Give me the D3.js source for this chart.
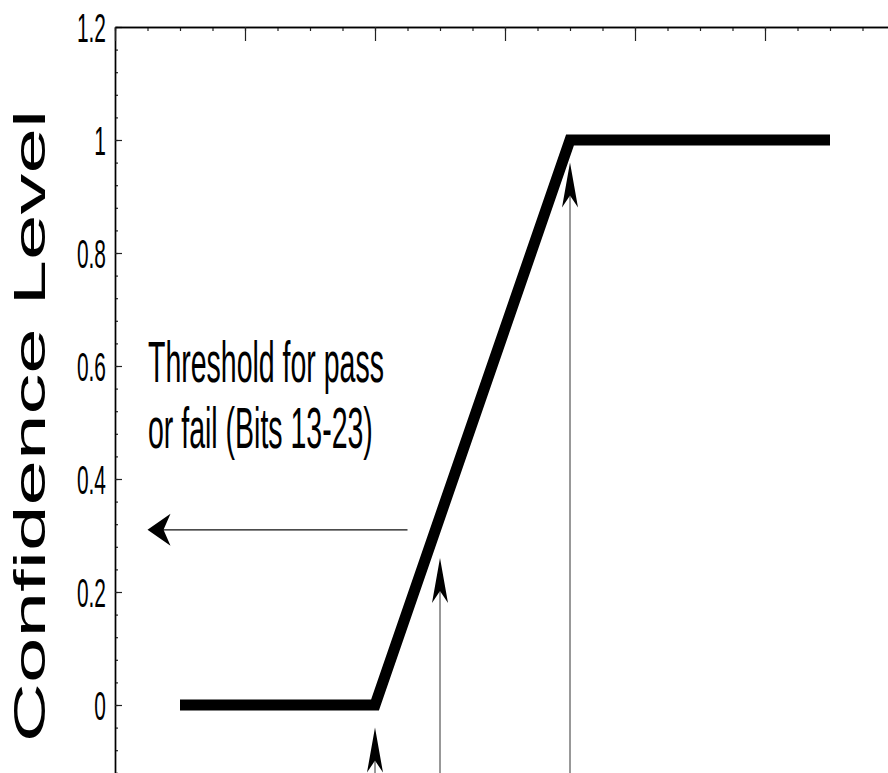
<!DOCTYPE html>
<html>
<head>
<meta charset="utf-8">
<script src="https://cdn.jsdelivr.net/npm/d3@7"></script>
<style>
  body { margin: 0; background: #fff; }
  svg { display: block; }
  text { font-family: "Liberation Sans", Arial, sans-serif; fill: #000; }
</style>
</head>
<body>
<div class="canvas"></div>
<script>
// chart data
const stepX = [0.5, 2, 3.5, 5.5];
const stepY = [0, 0, 1, 1];
const markerX = [2, 2.5, 3.5];           // vertical arrows
const markerTipY = [-0.04, 0.26, 0.96];  // where their heads point
const threshold = { x0: 2.25, x1: 0.25, y: 0.31 };
const yTicks = [0, 0.2, 0.4, 0.6, 0.8, 1, 1.2];
const yTickLabels = ['0', '0.2', '0.4', '0.6', '0.8', '1', '1.2'];
const noteLines = ['Threshold for pass', 'or fail (Bits 13-23)'];

const dims = { width: 888, height: 773 };

const svg = d3.select('.canvas')
  .append('svg')
  .attr('width', dims.width)
  .attr('height', dims.height);

// scales (plot box runs past the window on the right and bottom)
const x = d3.scaleLinear().domain([0, 6]).range([115, 895]);
const y = d3.scaleLinear().domain([-0.2, 1.2]).range([818, 27]);

// minor / major tick values
const yMinor = d3.range(-0.2, 1.2001, 0.04).map(v => +v.toFixed(2));
const xMajor = d3.range(0, 6.001, 1);
const xMinor = d3.range(0, 6.001, 0.25);

function styleAxis(g) {
  g.select('.domain').attr('stroke', '#000').attr('stroke-width', 1.4);
  g.selectAll('.tick line').attr('stroke', '#222').attr('stroke-width', 1.2);
  g.selectAll('.tick text').remove();
}

// left axis
svg.append('g').attr('transform', `translate(${x(0)},0)`)
  .call(d3.axisLeft(y).tickValues(yMinor).tickSize(-3).tickSizeOuter(0)).call(styleAxis);
svg.append('g').attr('transform', `translate(${x(0)},0)`)
  .call(d3.axisLeft(y).tickValues(yTicks).tickSize(-7).tickSizeOuter(0)).call(styleAxis);

// right axis
svg.append('g').attr('transform', `translate(${x(6)},0)`)
  .call(d3.axisRight(y).tickValues(yTicks).tickSize(-7).tickSizeOuter(0)).call(styleAxis);

// top axis
svg.append('g').attr('transform', `translate(0,${y(1.2)})`)
  .call(d3.axisTop(x).tickValues(xMinor).tickSize(-4).tickSizeOuter(0)).call(styleAxis);
svg.append('g').attr('transform', `translate(0,${y(1.2)})`)
  .call(d3.axisTop(x).tickValues(xMajor).tickSize(-14).tickSizeOuter(0)).call(styleAxis);

// y tick labels (narrow, tall lettering)
svg.append('g').selectAll('text')
  .data(yTicks)
  .join('text')
  .attr('transform', d => `translate(${x(0) - 9},${y(d)}) scale(0.51,1)`)
  .attr('text-anchor', 'end')
  .attr('dy', '0.36em')
  .attr('font-size', 41)
  .text((d, i) => yTickLabels[i]);

// y axis title
svg.append('text')
  .attr('transform', `translate(45,426) rotate(-90) scale(1.86,1)`)
  .attr('text-anchor', 'middle')
  .attr('font-size', 44)
  .text('Confidence Level');

// thin vertical arrows
const arrows = svg.append('g');
markerX.forEach((mx, i) => {
  const px = x(mx), py = y(markerTipY[i]);
  arrows.append('line')
    .attr('x1', px).attr('x2', px)
    .attr('y1', py + 30).attr('y2', y(-0.2))
    .attr('stroke', '#333').attr('stroke-width', 1);
  const p = d3.path();
  p.moveTo(px, py);
  p.lineTo(px + 8, py + 45);
  p.lineTo(px, py + 33);
  p.lineTo(px - 8, py + 45);
  p.closePath();
  arrows.append('path').attr('d', p.toString()).attr('fill', '#000');
});

// threshold arrow
{
  const px = x(threshold.x1), py = y(threshold.y);
  arrows.append('line')
    .attr('x1', x(threshold.x0)).attr('x2', px + 14)
    .attr('y1', py).attr('y2', py)
    .attr('stroke', '#111').attr('stroke-width', 1.4);
  const p = d3.path();
  p.moveTo(px, py);
  p.lineTo(px + 23, py - 16);
  p.lineTo(px + 16, py);
  p.lineTo(px + 23, py + 16);
  p.closePath();
  arrows.append('path').attr('d', p.toString()).attr('fill', '#000');
}

// annotation text
svg.append('g').selectAll('text')
  .data(noteLines)
  .join('text')
  .attr('transform', (d, i) => `translate(148,${382 + i * 66}) scale(0.5,1)`)
  .attr('font-size', 57)
  .text(d => d);

// the step curve
const line = d3.line()
  .x((d, i) => x(stepX[i]))
  .y(d => y(d));

svg.append('path')
  .datum(stepY)
  .attr('d', line)
  .attr('fill', 'none')
  .attr('stroke', '#000')
  .attr('stroke-width', 11)
  .attr('stroke-linejoin', 'miter')
  .attr('stroke-linecap', 'butt');
</script>
</body>
</html>
